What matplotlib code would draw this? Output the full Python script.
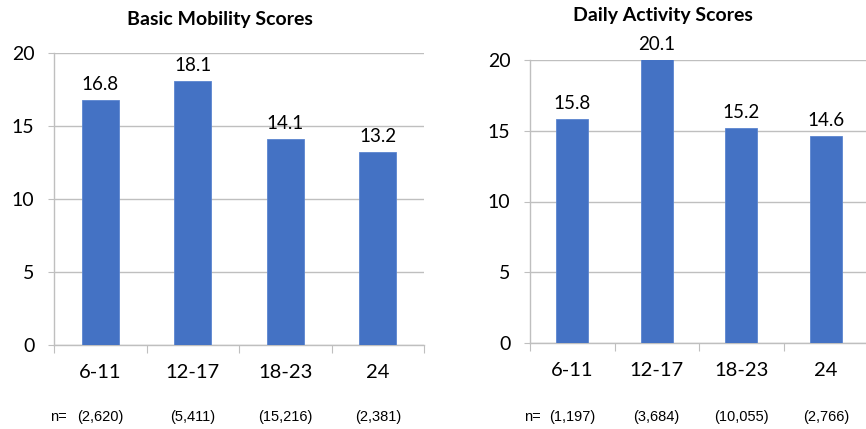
import matplotlib
matplotlib.use("Agg")
import matplotlib.pyplot as plt
from matplotlib.transforms import blended_transform_factory
import numpy as np

categories = ["6-11", "12-17", "18-23", "24"]

mobility_scores = [16.8, 18.1, 14.1, 13.2]
mobility_n = ["(2,620)", "(5,411)", "(15,216)", "(2,381)"]

activity_scores = [15.8, 20.1, 15.2, 14.6]
activity_n = ["(1,197)", "(3,684)", "(10,055)", "(2,766)"]

BAR_COLOR = "#4472C4"
GRID_COLOR = "#BFBFBF"
NUM_FONT = "Lato"
N_FONT = "Liberation Sans"


def draw_panel(fig, rect, scores, n_labels, title, title_xy, bar_width, n_eq_x):
    ax = fig.add_axes(rect)
    x = np.arange(len(categories))
    ax.bar(x, scores, width=bar_width, color=BAR_COLOR, edgecolor="#5B85D0",
           linewidth=0.6, zorder=3)
    ax.set_xlim(-0.5, len(categories) - 0.5)
    ax.set_ylim(0, 20)

    # gridlines and spines, Excel-like
    ax.set_yticks([0, 5, 10, 15, 20])
    ax.yaxis.grid(True, color=GRID_COLOR, linewidth=1.0, zorder=0)
    for side in ("top", "right"):
        ax.spines[side].set_visible(False)
    for side in ("left", "bottom"):
        ax.spines[side].set_color(GRID_COLOR)
        ax.spines[side].set_linewidth(1.0)
    ax.tick_params(axis="y", length=4, color=GRID_COLOR, labelsize=14, pad=10)
    for lab in ax.get_yticklabels():
        lab.set_fontfamily(NUM_FONT)

    # category boundaries as major ticks, labels on minor ticks
    ax.set_xticks(np.arange(len(categories) + 1) - 0.5)
    ax.set_xticklabels([])
    ax.tick_params(axis="x", which="major", length=6, color=GRID_COLOR)
    ax.set_xticks(x, minor=True)
    ax.set_xticklabels(categories, minor=True, fontsize=14.5, fontfamily=NUM_FONT)
    ax.tick_params(axis="x", which="minor", length=0, pad=14)

    for xi, v in zip(x, scores):
        ax.annotate(f"{v:.1f}", (xi, min(v, 20)), xytext=(0, 5), textcoords="offset points",
                    ha="center", va="bottom", fontsize=13.5, fontfamily=NUM_FONT,
                    annotation_clip=False)

    trans = blended_transform_factory(ax.transData, fig.transFigure)
    for xi, lab in zip(x, n_labels):
        ax.text(xi, 0.028, lab, transform=trans, ha="center", va="center",
                fontsize=10.5, fontfamily=N_FONT)
    ax.text(n_eq_x, 0.028, "n=", transform=trans, ha="center", va="center",
            fontsize=10.5, fontfamily=N_FONT)

    fig.text(title_xy[0], title_xy[1], title, ha="center", va="center",
             fontsize=14, fontweight="bold", fontfamily=NUM_FONT)
    return ax


fig = plt.figure(figsize=(8.66, 4.29), dpi=100)

draw_panel(fig, [54 / 866, 1 - 345 / 429, 370 / 866, 292 / 429],
           mobility_scores, mobility_n, "Basic Mobility Scores",
           (220 / 866, 1 - 20 / 429), 0.40, -0.45)
draw_panel(fig, [530 / 866, 1 - 343 / 429, 338 / 866, 283 / 429],
           activity_scores, activity_n, "Daily Activity Scores",
           (663 / 866, 1 - 15 / 429), 0.38, -0.47)

fig.savefig("out.png", dpi=100)
